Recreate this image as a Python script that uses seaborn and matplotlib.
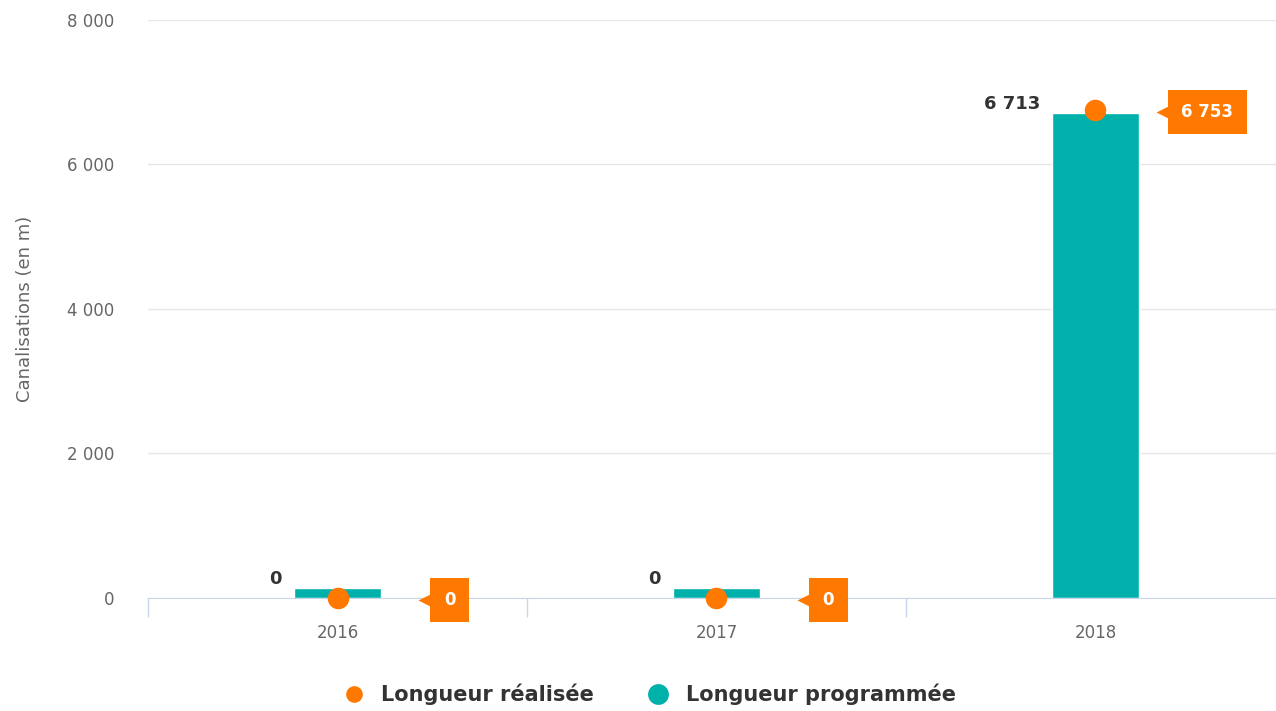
import pandas as pd
import matplotlib
matplotlib.use("Agg")
import matplotlib.pyplot as plt
import matplotlib.transforms as mtrans
from matplotlib.lines import Line2D
import seaborn as sns

# Données
annees = ["2016", "2017", "2018"]
longueur_programmee = [0, 0, 6713]
longueur_realisee = [0, 0, 6753]
labels_programmee = ["0", "0", "6 713"]
labels_realisee = ["0", "0", "6 753"]
yticks = [0, 2000, 4000, 6000, 8000]
ytick_labels = ["0", "2 000", "4 000", "6 000", "8 000"]

ORANGE = "#ff7800"
TEAL = "#00b0aa"
GRIS = "#666666"
TEXTE = "#333333"

sns.set_style("white")
plt.rcParams["font.family"] = ["DejaVu Sans"]

df = pd.DataFrame({"Année": annees,
                   "Programmée": longueur_programmee,
                   "Réalisée": longueur_realisee})
# hauteur minimale pour que les barres à 0 restent visibles
df["Barre"] = df["Programmée"].clip(lower=140)

fig = plt.figure(figsize=(12.76, 7.11), dpi=100)
ax = fig.add_axes([0.116, 0.159, 0.891, 0.813])

sns.barplot(data=df, x="Année", y="Barre", color=TEAL, width=0.23,
            saturation=1, ax=ax, zorder=2)
sns.stripplot(data=df, x="Année", y="Réalisée", color=ORANGE, jitter=False,
              size=15.5, linewidth=0, ax=ax, zorder=4)
for coll in ax.collections:
    coll.set_clip_on(False)

ax.set_xlim(-0.5, 2.5)
ax.set_ylim(0, 8000)
ax.set_yticks(yticks)
ax.set_yticklabels(ytick_labels)
ax.yaxis.grid(True, color="#e6e6e6", lw=1)
ax.set_axisbelow(True)
for s in ["left", "right", "top"]:
    ax.spines[s].set_visible(False)
ax.spines["bottom"].set_color("#ccd6eb")
ax.tick_params(axis="y", length=0, pad=24, labelsize=12, labelcolor=GRIS)
ax.tick_params(axis="x", which="major", length=0, pad=19, labelsize=12, labelcolor=GRIS)
ax.set_xticks([-0.5, 0.5, 1.5], minor=True)
ax.tick_params(axis="x", which="minor", bottom=True, length=14, color="#ccd6eb", width=1)
ax.set_xlabel("")
ax.set_ylabel("Canalisations (en m)", fontsize=13, color=GRIS)
ax.yaxis.set_label_coords(-0.1, 0.5)

# Étiquettes des barres
for i, lab in enumerate(labels_programmee):
    ax.annotate(lab, (i - 0.115, df["Barre"][i]), xytext=(-12, 9),
                textcoords="offset pixels", ha="right", va="center",
                fontsize=13, fontweight="bold", color=TEXTE)

# Étiquettes des points (bulles orange)
bulles = []
for i, lab in enumerate(labels_realisee):
    t = ax.annotate(lab, (i, longueur_realisee[i]), xytext=(112, -2),
                    textcoords="offset pixels", ha="center", va="center",
                    fontsize=12, fontweight="bold", color="white", zorder=5,
                    bbox=dict(boxstyle="square,pad=0.8", fc=ORANGE, ec="none"))
    bulles.append(t)

fig.canvas.draw()
for t in bulles:
    bb = t.get_bbox_patch().get_window_extent()
    ax.plot([bb.x0 - 3], [(bb.y0 + bb.y1) / 2], marker="<", ms=13,
            color=ORANGE, mec="none", transform=mtrans.IdentityTransform(),
            clip_on=False, zorder=5)

handles = [
    Line2D([], [], marker="o", ls="", ms=12, color=ORANGE, mec="none"),
    Line2D([], [], marker="o", ls="", ms=15, color=TEAL, mec="none"),
]
fig.legend(handles, ["Longueur réalisée", "Longueur programmée"],
           loc="center", bbox_to_anchor=(0.509, 0.023), ncol=2, frameon=False,
           prop={"weight": "bold", "size": 15}, labelcolor=TEXTE,
           handlelength=1, handletextpad=0.8, columnspacing=2.6)

fig.savefig("out.png", dpi=100)
